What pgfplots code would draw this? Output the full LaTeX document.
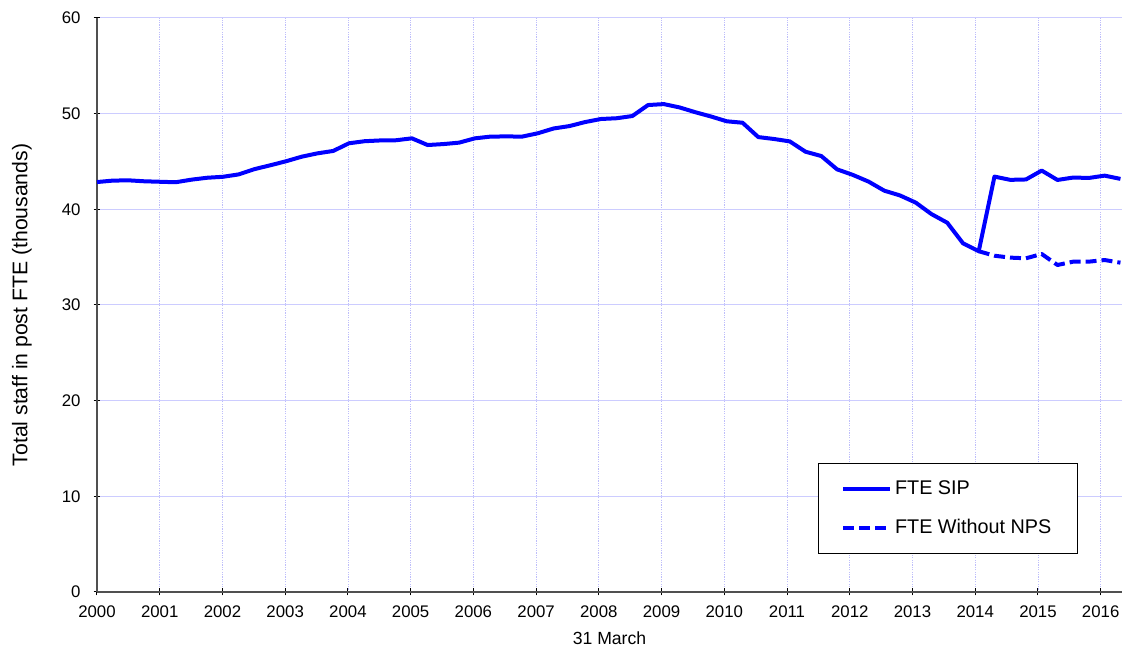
\documentclass[border=0pt]{standalone}
\usepackage{pgfplots}
\pgfplotsset{compat=1.18}
\usepackage{pgfplotstable}
\usepackage{fontspec}
\setmainfont{Liberation Sans}
\usetikzlibrary{calc}
\definecolor{lineblue}{RGB}{0,0,255}
\definecolor{gridblue}{RGB}{204,204,255}
\definecolor{vgridblue}{RGB}{190,190,250}
\definecolor{axgray}{RGB}{80,80,80}

\pgfplotstableread{
x y
2000.000 42.85
2000.251 43.00
2000.502 43.03
2000.753 42.93
2001.004 42.88
2001.255 42.83
2001.506 43.10
2001.757 43.30
2002.008 43.40
2002.259 43.65
2002.510 44.20
2002.761 44.60
2003.012 45.02
2003.263 45.50
2003.514 45.85
2003.765 46.10
2004.016 46.90
2004.267 47.12
2004.518 47.20
2004.769 47.22
2005.020 47.42
2005.271 46.72
2005.522 46.82
2005.773 46.97
2006.024 47.42
2006.275 47.60
2006.526 47.62
2006.777 47.60
2007.028 47.95
2007.279 48.45
2007.530 48.70
2007.781 49.12
2008.032 49.44
2008.283 49.52
2008.534 49.75
2008.785 50.90
2009.036 51.00
2009.287 50.65
2009.538 50.15
2009.789 49.70
2010.040 49.20
2010.291 49.05
2010.542 47.55
2010.793 47.35
2011.044 47.10
2011.295 46.02
2011.546 45.57
2011.797 44.18
2012.048 43.60
2012.299 42.90
2012.550 41.95
2012.801 41.45
2013.052 40.70
2013.303 39.50
2013.554 38.60
2013.805 36.45
2014.056 35.62
2014.307 43.42
2014.558 43.08
2014.809 43.12
2015.060 44.05
2015.311 43.07
2015.562 43.32
2015.813 43.28
2016.064 43.52
2016.315 43.18
}\sipdata

\pgfplotstableread{
x y
2014.056 35.62
2014.307 35.15
2014.558 34.95
2014.809 34.88
2015.060 35.33
2015.311 34.18
2015.562 34.53
2015.813 34.53
2016.064 34.70
2016.315 34.42
}\npsdata

\begin{document}
\begin{tikzpicture}
\begin{axis}[
  scale only axis,
  width=512.5pt, height=287pt,
  xmin=2000, xmax=2016.34,
  ymin=0, ymax=60,
  xtick={2000,2001,...,2016},
  ytick={0,10,...,60},
  axis x line*=bottom,
  axis y line*=left,
  axis line style={axgray, line width=0.6pt, -},
  tick style={black, line width=0.5pt},
  tick align=center,
  major tick length=3.5pt,
  /pgf/number format/1000 sep={},
  /pgf/number format/assume math mode=true,
  ticklabel style={font=\fontsize{8.4}{10}\selectfont},
  xticklabel style={yshift=-1.5pt},
  yticklabel style={xshift=-3pt},
  grid=major,
  major y grid style={gridblue, line width=0.5pt},
  major x grid style={vgridblue, line width=0.4pt, dash pattern=on 0.6pt off 0.6pt},
  xlabel={31 March},
  xlabel style={font=\fontsize{8.8}{10}\selectfont, at={(axis description cs:0.5,-0.080)}, anchor=center},
  ylabel={Total staff in post FTE (thousands)},
  ylabel style={font=\fontsize{10.6}{12}\selectfont, at={(axis description cs:-0.0732,0.5)}, anchor=center},
  legend cell align=left,
  legend image code/.code={\draw[#1] (0pt,0pt) -- (23.5pt,0pt);},
  legend style={at={(axis description cs:0.703,0.225)}, anchor=north west,
    draw=black, line width=0.5pt, fill=white,
    font=\fontsize{9.9}{11}\selectfont,
    inner xsep=11.5pt, inner ysep=7pt, row sep=8pt,
    nodes={inner sep=1.5pt}},
]
\addplot[lineblue, line width=2pt, line join=round] table[x=x,y=y] {\sipdata};
\addlegendentry{FTE SIP}
\addplot[lineblue, line width=2pt, line join=round, dash pattern=on 5.5pt off 2.5pt] table[x=x,y=y] {\npsdata};
\addlegendentry{FTE Without NPS}
\coordinate (sw) at (rel axis cs:0,0);
\coordinate (ne) at (rel axis cs:1,1);
\end{axis}
\pgfresetboundingbox
\path[use as bounding box] ($(sw)+(-48.5pt,-26.5pt)$) rectangle ($(ne)+(2pt,9pt)$);
\end{tikzpicture}
\end{document}
